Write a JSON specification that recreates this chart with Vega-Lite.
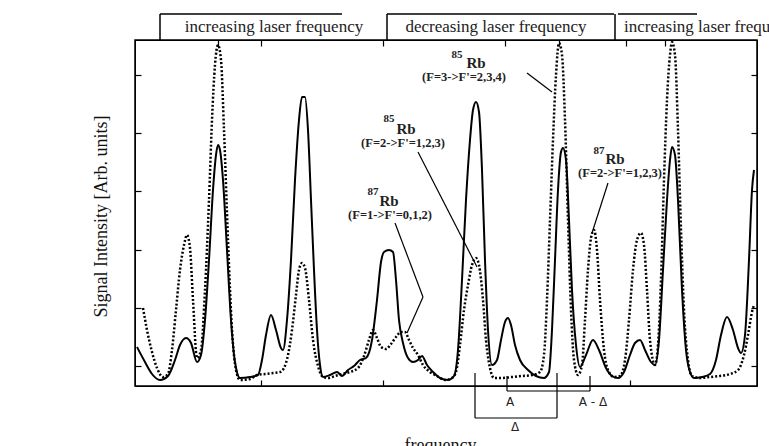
{
"$schema": "https://vega.github.io/schema/vega-lite/v6.json",
"width": 622, "height": 346,
"autosize": {"type": "none"},
"padding": {"left": 135, "top": 40, "right": 12, "bottom": 60},
"background": "white",
"config": {
 "view": {"stroke": "black", "strokeWidth": 1.5},
 "font": "Liberation Serif",
 "axis": {"grid": false, "labels": false, "domainColor": "black", "tickColor": "black", "tickSize": -6, "tickWidth": 1.2, "titleFont": "Liberation Serif", "titleFontWeight": "normal", "titleColor": "#111", "titleFontSize": 18}
},
"datasets": {
 "curves": [
  {"series":"solid","f":1,"s":19.5},{"series":"solid","f":5,"s":12},{"series":"solid","f":8.5,"s":6},{"series":"solid","f":12.5,"s":3},{"series":"solid","f":16.5,"s":5},{"series":"solid","f":20,"s":13},{"series":"solid","f":22.5,"s":20.5},{"series":"solid","f":25.5,"s":24},{"series":"solid","f":28,"s":21.5},{"series":"solid","f":31,"s":12},{"series":"solid","f":33,"s":15.5},{"series":"solid","f":35,"s":33},{"series":"solid","f":37,"s":63},{"series":"solid","f":39,"s":98},{"series":"solid","f":40.5,"s":115.5},{"series":"solid","f":41.5,"s":120.5},{"series":"solid","f":42.5,"s":118},{"series":"solid","f":44,"s":103},{"series":"solid","f":46,"s":68},{"series":"solid","f":48,"s":33},{"series":"solid","f":50,"s":12},{"series":"solid","f":52.5,"s":4},{"series":"solid","f":57.5,"s":4.5},{"series":"solid","f":61.5,"s":5.5},{"series":"solid","f":63.5,"s":13},{"series":"solid","f":65.5,"s":25.5},{"series":"solid","f":68,"s":35.5},{"series":"solid","f":70.5,"s":28},{"series":"solid","f":73,"s":19},{"series":"solid","f":74,"s":18},{"series":"solid","f":76,"s":33},{"series":"solid","f":78,"s":63},{"series":"solid","f":80,"s":103},{"series":"solid","f":82,"s":133},{"series":"solid","f":83.5,"s":144.5},{"series":"solid","f":85,"s":144.5},{"series":"solid","f":86.5,"s":128},{"series":"solid","f":88,"s":93},{"series":"solid","f":89.5,"s":58},{"series":"solid","f":91,"s":28},{"series":"solid","f":92.5,"s":10.5},{"series":"solid","f":94,"s":4.5},{"series":"solid","f":97.5,"s":5.5},{"series":"solid","f":101,"s":7},{"series":"solid","f":103.5,"s":5},{"series":"solid","f":106.5,"s":8},{"series":"solid","f":109.5,"s":10},{"series":"solid","f":112.5,"s":13},{"series":"solid","f":115.5,"s":14},{"series":"solid","f":118.5,"s":23},{"series":"solid","f":121,"s":43},{"series":"solid","f":123,"s":62},{"series":"solid","f":124.5,"s":67},{"series":"solid","f":127,"s":68},{"series":"solid","f":129,"s":67},{"series":"solid","f":130.5,"s":53},{"series":"solid","f":132,"s":33},{"series":"solid","f":134,"s":21.5},{"series":"solid","f":136.5,"s":14},{"series":"solid","f":139,"s":12},{"series":"solid","f":141.5,"s":13},{"series":"solid","f":143.5,"s":15},{"series":"solid","f":146,"s":10.5},{"series":"solid","f":149,"s":7},{"series":"solid","f":152.5,"s":4},{"series":"solid","f":156.5,"s":3},{"series":"solid","f":159.5,"s":5},{"series":"solid","f":161.5,"s":18},{"series":"solid","f":163.5,"s":53},{"series":"solid","f":165.5,"s":93},{"series":"solid","f":167.5,"s":123},{"series":"solid","f":169,"s":138},{"series":"solid","f":170.5,"s":142},{"series":"solid","f":172,"s":137},{"series":"solid","f":173.5,"s":108},{"series":"solid","f":175,"s":63},{"series":"solid","f":176.5,"s":28},{"series":"solid","f":178.5,"s":10.5},{"series":"solid","f":181,"s":13},{"series":"solid","f":183,"s":23},{"series":"solid","f":185,"s":32},{"series":"solid","f":186.5,"s":34},{"series":"solid","f":188,"s":30.5},{"series":"solid","f":190,"s":20.5},{"series":"solid","f":192.5,"s":13},{"series":"solid","f":196.5,"s":8},{"series":"solid","f":200.5,"s":5},{"series":"solid","f":204.5,"s":4},{"series":"solid","f":207,"s":7},{"series":"solid","f":208.5,"s":28},{"series":"solid","f":210,"s":63},{"series":"solid","f":211.5,"s":98},{"series":"solid","f":213,"s":117},{"series":"solid","f":214,"s":119},{"series":"solid","f":215.5,"s":113},{"series":"solid","f":217,"s":83},{"series":"solid","f":218.5,"s":48},{"series":"solid","f":220.5,"s":20.5},{"series":"solid","f":222.5,"s":9.5},{"series":"solid","f":225.5,"s":15.5},{"series":"solid","f":229,"s":23},{"series":"solid","f":232,"s":18},{"series":"solid","f":235.5,"s":9},{"series":"solid","f":238.5,"s":5},{"series":"solid","f":241.5,"s":4},{"series":"solid","f":244.5,"s":7},{"series":"solid","f":247.5,"s":15.5},{"series":"solid","f":250,"s":21.5},{"series":"solid","f":252.5,"s":23},{"series":"solid","f":255,"s":18},{"series":"solid","f":258,"s":12},{"series":"solid","f":260,"s":10.5},{"series":"solid","f":262,"s":23},{"series":"solid","f":264,"s":58},{"series":"solid","f":266,"s":93},{"series":"solid","f":267.5,"s":113},{"series":"solid","f":268.5,"s":119.5},{"series":"solid","f":270,"s":115.5},{"series":"solid","f":271.5,"s":93},{"series":"solid","f":273.5,"s":48},{"series":"solid","f":275.5,"s":18},{"series":"solid","f":277.5,"s":7},{"series":"solid","f":279.5,"s":4},{"series":"solid","f":283.5,"s":4.5},{"series":"solid","f":287.5,"s":6},{"series":"solid","f":290.5,"s":13},{"series":"solid","f":293,"s":25.5},{"series":"solid","f":296,"s":34.5},{"series":"solid","f":299,"s":28},{"series":"solid","f":301.5,"s":19},{"series":"solid","f":303,"s":16.5},{"series":"solid","f":305,"s":25.5},{"series":"solid","f":307,"s":63},{"series":"solid","f":308.5,"s":98},{"series":"solid","f":309.5,"s":108},
  {"series":"dotted","f":4,"s":39},{"series":"dotted","f":6,"s":28},{"series":"dotted","f":8.5,"s":17},{"series":"dotted","f":11,"s":9},{"series":"dotted","f":14,"s":4.5},{"series":"dotted","f":16.5,"s":6},{"series":"dotted","f":18.5,"s":18},{"series":"dotted","f":20.5,"s":38},{"series":"dotted","f":22.5,"s":58},{"series":"dotted","f":24.5,"s":70.5},{"series":"dotted","f":26,"s":75.5},{"series":"dotted","f":27.5,"s":69},{"series":"dotted","f":29,"s":43},{"series":"dotted","f":31,"s":14},{"series":"dotted","f":33,"s":18},{"series":"dotted","f":35,"s":48},{"series":"dotted","f":37,"s":93},{"series":"dotted","f":38.5,"s":133},{"series":"dotted","f":40,"s":160.5},{"series":"dotted","f":41.5,"s":170.5},{"series":"dotted","f":43,"s":163},{"series":"dotted","f":44.5,"s":128},{"series":"dotted","f":46.5,"s":73},{"series":"dotted","f":48.5,"s":28},{"series":"dotted","f":50.5,"s":8},{"series":"dotted","f":52.5,"s":3},{"series":"dotted","f":57.5,"s":3.5},{"series":"dotted","f":61,"s":5.5},{"series":"dotted","f":65,"s":6},{"series":"dotted","f":69,"s":6.5},{"series":"dotted","f":72.5,"s":7},{"series":"dotted","f":74.5,"s":9},{"series":"dotted","f":76.5,"s":15.5},{"series":"dotted","f":78.5,"s":28},{"series":"dotted","f":80.5,"s":45.5},{"series":"dotted","f":82,"s":58},{"series":"dotted","f":83.5,"s":61.5},{"series":"dotted","f":85,"s":59},{"series":"dotted","f":87,"s":43},{"series":"dotted","f":89,"s":23},{"series":"dotted","f":91.5,"s":10},{"series":"dotted","f":94,"s":4.5},{"series":"dotted","f":96.5,"s":4},{"series":"dotted","f":100,"s":5},{"series":"dotted","f":103.5,"s":6},{"series":"dotted","f":107.5,"s":7},{"series":"dotted","f":111.5,"s":9},{"series":"dotted","f":114.5,"s":15},{"series":"dotted","f":117,"s":23},{"series":"dotted","f":119,"s":28},{"series":"dotted","f":121,"s":24},{"series":"dotted","f":123,"s":19.5},{"series":"dotted","f":125.5,"s":18.5},{"series":"dotted","f":128,"s":21},{"series":"dotted","f":130.5,"s":24.5},{"series":"dotted","f":133,"s":27},{"series":"dotted","f":135,"s":27},{"series":"dotted","f":137,"s":23},{"series":"dotted","f":139,"s":19},{"series":"dotted","f":141.5,"s":15.5},{"series":"dotted","f":144,"s":10.5},{"series":"dotted","f":147.5,"s":7},{"series":"dotted","f":151,"s":5},{"series":"dotted","f":155,"s":3},{"series":"dotted","f":158.5,"s":4},{"series":"dotted","f":160.5,"s":7},{"series":"dotted","f":162.5,"s":20.5},{"series":"dotted","f":164.5,"s":38},{"series":"dotted","f":166.5,"s":50.5},{"series":"dotted","f":168.5,"s":60.5},{"series":"dotted","f":170.5,"s":64},{"series":"dotted","f":172,"s":60.5},{"series":"dotted","f":174,"s":43},{"series":"dotted","f":175.5,"s":23},{"series":"dotted","f":177.5,"s":9},{"series":"dotted","f":179.5,"s":4},{"series":"dotted","f":183.5,"s":4},{"series":"dotted","f":188.5,"s":4.5},{"series":"dotted","f":193.5,"s":5},{"series":"dotted","f":198.5,"s":5.5},{"series":"dotted","f":202.5,"s":7},{"series":"dotted","f":204.5,"s":15.5},{"series":"dotted","f":206,"s":43},{"series":"dotted","f":207.5,"s":83},{"series":"dotted","f":209,"s":123},{"series":"dotted","f":210.5,"s":155.5},{"series":"dotted","f":212,"s":171.5},{"series":"dotted","f":213.5,"s":165.5},{"series":"dotted","f":215,"s":133},{"series":"dotted","f":216.5,"s":83},{"series":"dotted","f":218,"s":38},{"series":"dotted","f":219.5,"s":13},{"series":"dotted","f":221.5,"s":5.5},{"series":"dotted","f":223.5,"s":10.5},{"series":"dotted","f":225,"s":33},{"series":"dotted","f":226.5,"s":58},{"series":"dotted","f":228,"s":74},{"series":"dotted","f":229.5,"s":78},{"series":"dotted","f":231,"s":68},{"series":"dotted","f":232.5,"s":43},{"series":"dotted","f":234.5,"s":18},{"series":"dotted","f":236.5,"s":8},{"series":"dotted","f":239.5,"s":4.5},{"series":"dotted","f":242.5,"s":5},{"series":"dotted","f":245,"s":13},{"series":"dotted","f":247,"s":33},{"series":"dotted","f":249,"s":58},{"series":"dotted","f":251,"s":73},{"series":"dotted","f":253,"s":76.5},{"series":"dotted","f":254.5,"s":70.5},{"series":"dotted","f":256,"s":48},{"series":"dotted","f":257.5,"s":23},{"series":"dotted","f":260,"s":10.5},{"series":"dotted","f":261.5,"s":20.5},{"series":"dotted","f":263,"s":53},{"series":"dotted","f":264.5,"s":103},{"series":"dotted","f":266,"s":143},{"series":"dotted","f":267.5,"s":165.5},{"series":"dotted","f":268.5,"s":172},{"series":"dotted","f":270,"s":165.5},{"series":"dotted","f":271.5,"s":128},{"series":"dotted","f":273,"s":78},{"series":"dotted","f":274.5,"s":38},{"series":"dotted","f":276.5,"s":13},{"series":"dotted","f":278.5,"s":5},{"series":"dotted","f":282.5,"s":4},{"series":"dotted","f":287.5,"s":4.5},{"series":"dotted","f":292.5,"s":5},{"series":"dotted","f":297.5,"s":6},{"series":"dotted","f":301.5,"s":8},{"series":"dotted","f":304.5,"s":15.5},{"series":"dotted","f":306.5,"s":25.5},{"series":"dotted","f":308.5,"s":37},{"series":"dotted","f":309.5,"s":40.5}
 ],
 "segs": [
  {"kind":"pointer","x":196,"y":156.5,"x2":208.5,"y2":147},
  {"kind":"pointer","x":141.5,"y":117,"x2":171,"y2":59.5},
  {"kind":"pointer","x":130,"y":81.5,"x2":144,"y2":44.5},
  {"kind":"pointer","x":144,"y":44.5,"x2":136,"y2":26.5},
  {"kind":"pointer","x":236.5,"y":101.5,"x2":228.5,"y2":76.5},
  {"kind":"pointer","x":170,"y":6.5,"x2":170,"y2":-16},
  {"kind":"pointer","x":211,"y":6.5,"x2":211,"y2":-16},
  {"kind":"pointer","x":170,"y":-16,"x2":211,"y2":-16},
  {"kind":"pointer","x":186,"y":5,"x2":186,"y2":-2.5},
  {"kind":"pointer","x":227.5,"y":5,"x2":227.5,"y2":-2.5},
  {"kind":"pointer","x":186,"y":-2.5,"x2":227.5,"y2":-2.5},
  {"kind":"bracket","x":12.5,"y":186,"x2":12.5,"y2":173},
  {"kind":"bracket","x":126,"y":186,"x2":126,"y2":173},
  {"kind":"bracket","x":240,"y":186,"x2":240,"y2":173},
  {"kind":"bracket","x":12.5,"y":186,"x2":103.5,"y2":186},
  {"kind":"bracket","x":126,"y":186,"x2":239.5,"y2":186},
  {"kind":"bracket","x":241.5,"y":186,"x2":281,"y2":186}
 ],
 "labels": [
  {"kind":"top","text":"increasing laser frequency","x":69.5,"y":179.5},
  {"kind":"top","text":"decreasing laser frequency","x":180.5,"y":179.5},
  {"kind":"topleft","text":"increasing laser frequency","x":244.5,"y":179.5},
  {"kind":"sup","text":"85","x":161,"y":165.5},
  {"kind":"elem","text":"Rb","x":170.5,"y":161.5},
  {"kind":"sub","text":"(F=3->F'=2,3,4)","x":164.5,"y":154.5},
  {"kind":"sup","text":"85","x":127,"y":133.5},
  {"kind":"elem","text":"Rb","x":135.5,"y":128.5},
  {"kind":"sub","text":"(F=2->F'=1,2,3)","x":134,"y":121.5},
  {"kind":"sup","text":"87","x":119,"y":97},
  {"kind":"elem","text":"Rb","x":127,"y":92.5},
  {"kind":"sub","text":"(F=1->F'=0,1,2)","x":127.5,"y":85.5},
  {"kind":"sup","text":"87","x":232,"y":117.5},
  {"kind":"elem","text":"Rb","x":240,"y":113.5},
  {"kind":"sub","text":"(F=2->F'=1,2,3)","x":242.5,"y":106.5},
  {"kind":"bottom","text":"A","x":187.5,"y":-8},
  {"kind":"bottom","text":"A - Δ","x":229,"y":-8},
  {"kind":"bottom","text":"Δ","x":190,"y":-20.5}
 ]
},
"resolve": {"axis": {"x": "independent", "y": "independent"}},
"layer": [
 {
  "data": {"name": "curves"},
  "transform": [{"filter": "datum.series === 'solid'"}],
  "mark": {"type": "line", "color": "black", "strokeWidth": 2, "interpolate": "monotone"},
  "encoding": {
   "x": {"field": "f", "type": "quantitative", "scale": {"domain": [0, 311], "nice": false, "zero": false},
         "axis": {"orient": "bottom", "values": [63, 124, 247.5], "title": "frequency", "titleX": 305, "titleY": 50, "titleBaseline": "top"}},
   "y": {"field": "s", "type": "quantitative", "scale": {"domain": [0, 173], "nice": false, "zero": false},
         "axis": {"orient": "left", "values": [10, 39, 68, 97.5, 126.5, 155.5], "title": "Signal Intensity [Arb. units]", "titleX": -34, "titleY": 176, "titleBaseline": "middle", "titleAlign": "center", "titleAngle": -90}}
  }
 },
 {
  "data": {"name": "curves"},
  "transform": [{"filter": "datum.series === 'dotted'"}],
  "mark": {"type": "line", "color": "black", "strokeWidth": 2.5, "strokeDash": [2, 2], "interpolate": "monotone"},
  "encoding": {
   "x": {"field": "f", "type": "quantitative", "axis": {"orient": "top", "values": [41.5, 63, 124, 185, 212, 245.5, 265], "title": null}},
   "y": {"field": "s", "type": "quantitative", "axis": {"orient": "right", "values": [10, 39, 68, 97.5, 126.5, 155.5], "title": null}}
  }
 },
 {
  "data": {"name": "segs"},
  "transform": [{"filter": "datum.kind === 'pointer'"}],
  "mark": {"type": "rule", "color": "black", "strokeWidth": 1.2, "clip": false},
  "encoding": {
   "x": {"field": "x", "type": "quantitative", "axis": null},
   "y": {"field": "y", "type": "quantitative", "axis": null},
   "x2": {"field": "x2"}, "y2": {"field": "y2"}
  }
 },
 {
  "data": {"name": "segs"},
  "transform": [{"filter": "datum.kind === 'bracket'"}],
  "mark": {"type": "rule", "color": "black", "strokeWidth": 1.5, "clip": false},
  "encoding": {
   "x": {"field": "x", "type": "quantitative", "axis": null},
   "y": {"field": "y", "type": "quantitative", "axis": null},
   "x2": {"field": "x2"}, "y2": {"field": "y2"}
  }
 },
 {
  "data": {"name": "labels"},
  "transform": [{"filter": "datum.kind === 'top'"}],
  "mark": {"type": "text", "font": "Liberation Serif", "fontSize": 17, "align": "center", "baseline": "middle", "color": "#222"},
  "encoding": {"x": {"field": "x", "type": "quantitative", "axis": null}, "y": {"field": "y", "type": "quantitative", "axis": null}, "text": {"field": "text"}}
 },
 {
  "data": {"name": "labels"},
  "transform": [{"filter": "datum.kind === 'topleft'"}],
  "mark": {"type": "text", "font": "Liberation Serif", "fontSize": 17, "align": "left", "baseline": "middle", "color": "#222"},
  "encoding": {"x": {"field": "x", "type": "quantitative", "axis": null}, "y": {"field": "y", "type": "quantitative", "axis": null}, "text": {"field": "text"}}
 },
 {
  "data": {"name": "labels"},
  "transform": [{"filter": "datum.kind === 'sup'"}],
  "mark": {"type": "text", "font": "Liberation Serif", "fontSize": 11, "fontWeight": "bold", "align": "center", "baseline": "middle", "color": "#222"},
  "encoding": {"x": {"field": "x", "type": "quantitative", "axis": null}, "y": {"field": "y", "type": "quantitative", "axis": null}, "text": {"field": "text"}}
 },
 {
  "data": {"name": "labels"},
  "transform": [{"filter": "datum.kind === 'elem'"}],
  "mark": {"type": "text", "font": "Liberation Serif", "fontSize": 15, "fontWeight": "bold", "align": "center", "baseline": "middle", "color": "#222"},
  "encoding": {"x": {"field": "x", "type": "quantitative", "axis": null}, "y": {"field": "y", "type": "quantitative", "axis": null}, "text": {"field": "text"}}
 },
 {
  "data": {"name": "labels"},
  "transform": [{"filter": "datum.kind === 'sub'"}],
  "mark": {"type": "text", "font": "Liberation Serif", "fontSize": 12.5, "fontWeight": "bold", "align": "center", "baseline": "middle", "color": "#222"},
  "encoding": {"x": {"field": "x", "type": "quantitative", "axis": null}, "y": {"field": "y", "type": "quantitative", "axis": null}, "text": {"field": "text"}}
 },
 {
  "data": {"name": "labels"},
  "transform": [{"filter": "datum.kind === 'bottom'"}],
  "mark": {"type": "text", "font": "DejaVu Sans", "fontSize": 12, "align": "center", "baseline": "middle", "color": "#222"},
  "encoding": {"x": {"field": "x", "type": "quantitative", "axis": null}, "y": {"field": "y", "type": "quantitative", "axis": null}, "text": {"field": "text"}}
 }
]
}
